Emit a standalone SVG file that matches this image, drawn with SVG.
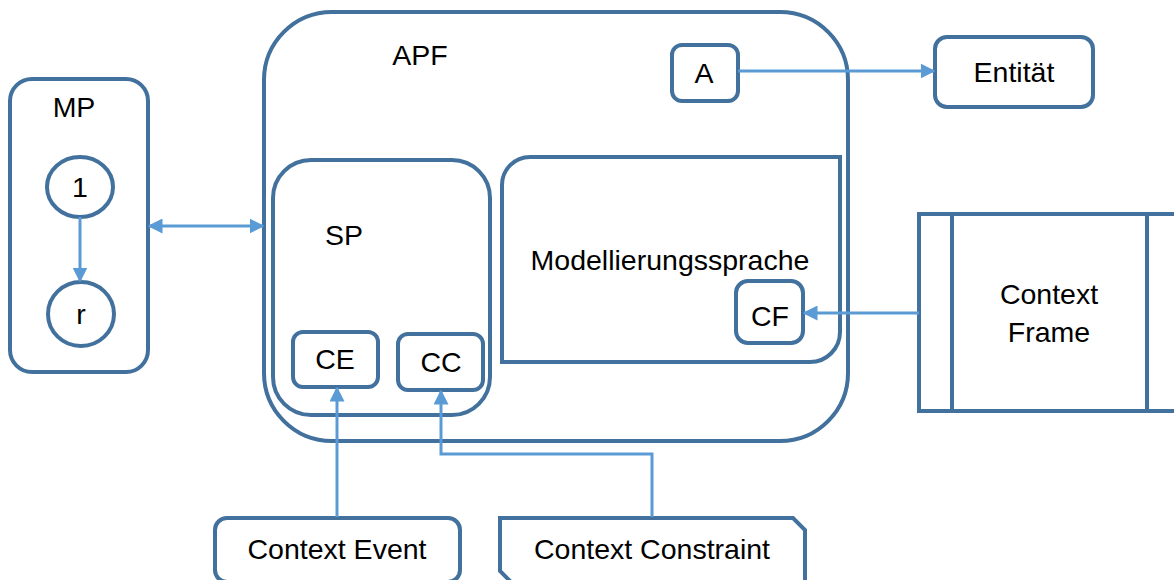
<svg xmlns="http://www.w3.org/2000/svg" width="1174" height="580" viewBox="0 0 1174 580">
  <style>
    .shape { fill: #ffffff; stroke: #41719C; stroke-width: 4; }
    .frame { fill: none; stroke: #41719C; stroke-width: 4; }
    .conn { fill: none; stroke: #5B9BD5; stroke-width: 3; }
    .label { font-family: "Liberation Sans", Arial, sans-serif; font-size: 28.5px; fill: #000000; text-anchor: middle; }
  </style>
  <defs>
    <marker id="arrow" viewBox="0 0 10 10" refX="9" refY="5" markerWidth="5" markerHeight="5" orient="auto-start-reverse" markerUnits="strokeWidth">
      <path d="M0,0 L10,5 L0,10 z" fill="#5B9BD5"/>
    </marker>
  </defs>
  <rect width="1174" height="580" fill="#ffffff"/>

  <!-- MP container with its two states -->
  <g id="mp">
    <rect class="shape" x="10" y="79" width="138" height="293" rx="22" ry="22"/>
    <text class="label" x="74" y="117">MP</text>
  </g>
  <g id="state-1">
    <ellipse class="shape" cx="80" cy="187" rx="33" ry="30"/>
    <text class="label" x="80" y="197">1</text>
  </g>
  <g id="state-r">
    <ellipse class="shape" cx="81" cy="314" rx="33" ry="32"/>
    <text class="label" x="81" y="324">r</text>
  </g>

  <!-- APF container -->
  <g id="apf">
    <rect class="shape" x="264" y="12" width="584" height="429" rx="68" ry="68"/>
    <text class="label" x="420" y="65">APF</text>
  </g>
  <g id="a">
    <rect class="shape" x="672" y="45" width="66" height="56" rx="10" ry="10"/>
    <text class="label" x="704" y="83">A</text>
  </g>

  <!-- SP with CE and CC -->
  <g id="sp">
    <rect class="shape" x="273" y="160" width="217" height="255" rx="38" ry="38"/>
    <text class="label" x="344" y="245">SP</text>
  </g>
  <g id="ce">
    <rect class="shape" x="293" y="332" width="85" height="55" rx="10" ry="10"/>
    <text class="label" x="335" y="369">CE</text>
  </g>
  <g id="cc">
    <rect class="shape" x="398" y="334" width="85" height="56" rx="10" ry="10"/>
    <text class="label" x="441" y="372">CC</text>
  </g>

  <!-- Modellierungssprache (round diagonal corners) with CF -->
  <g id="modellierungssprache">
    <path class="shape" d="M530,157 L840,157 L840,332 A30,30 0 0 1 810,362 L502,362 L502,185 A28,28 0 0 1 530,157 Z"/>
    <text class="label" x="670" y="270">Modellierungssprache</text>
  </g>
  <g id="cf">
    <rect class="shape" x="736" y="281" width="67" height="62" rx="12" ry="12"/>
    <text class="label" x="770" y="326">CF</text>
  </g>

  <!-- External nodes -->
  <g id="entitaet">
    <rect class="shape" x="935" y="37" width="158" height="70" rx="12" ry="12"/>
    <text class="label" x="1014" y="82">Entität</text>
  </g>
  <g id="context-frame">
    <rect class="shape" x="919" y="214" width="270" height="197"/>
    <line class="frame" x1="952" y1="214" x2="952" y2="411"/>
    <line class="frame" x1="1147" y1="214" x2="1147" y2="411"/>
    <text class="label" x="1049" y="304">Context</text>
    <text class="label" x="1049" y="342">Frame</text>
  </g>
  <g id="context-event">
    <rect class="shape" x="215" y="518" width="245" height="64" rx="12" ry="12"/>
    <text class="label" x="337" y="559">Context Event</text>
  </g>
  <g id="context-constraint">
    <!-- snipped top-right and bottom-left corners -->
    <path class="shape" d="M500,518 L793,518 L805,530 L805,583 L512,583 L500,571 Z"/>
    <text class="label" x="652" y="559">Context Constraint</text>
  </g>

  <!-- Connectors -->
  <g id="connectors">
    <line class="conn" x1="80" y1="217" x2="80" y2="281" marker-end="url(#arrow)"/>
    <line class="conn" x1="149" y1="226" x2="263" y2="226" marker-start="url(#arrow)" marker-end="url(#arrow)"/>
    <line class="conn" x1="738" y1="71" x2="934" y2="71" marker-end="url(#arrow)"/>
    <line class="conn" x1="919" y1="313" x2="804" y2="313" marker-end="url(#arrow)"/>
    <line class="conn" x1="337" y1="517" x2="337" y2="388" marker-end="url(#arrow)"/>
    <polyline class="conn" points="652,517 652,454 441,454 441,391" marker-end="url(#arrow)"/>
  </g>
</svg>
